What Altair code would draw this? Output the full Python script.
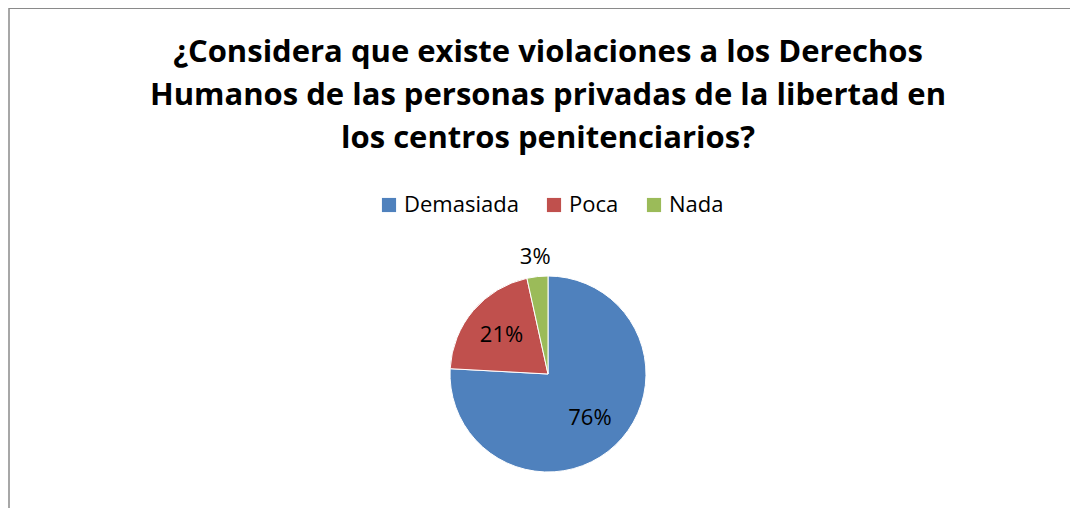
import altair as alt
import pandas as pd

categories = ["Demasiada", "Poca", "Nada"]
counts = [22, 6, 1]
colors = ["#4F81BD", "#C0504D", "#9BBB59"]
title_lines = [
    "¿Considera que existe violaciones a los Derechos",
    "Humanos de las personas privadas de la libertad en",
    "los centros penitenciarios?",
]

df = pd.DataFrame({"cat": categories, "n": counts, "idx": list(range(len(categories)))})

W, H = 1062, 500
cx, cy = 540, 366
R = 98
FONT = "Open Sans"

base = alt.Chart(df).transform_joinaggregate(total="sum(n)").transform_calculate(
    pct="datum.n / datum.total",
    lr="datum.n / datum.total < 0.05 ? 118 : 61",
)

pie = base.mark_arc(radius=R, stroke="white", strokeWidth=1).encode(
    theta=alt.Theta("n:Q", stack=True),
    order=alt.Order("idx:Q"),
    color=alt.Color(
        "cat:N",
        scale=alt.Scale(domain=categories, range=colors),
        legend=alt.Legend(
            orient="none",
            legendX=370,
            legendY=186,
            direction="horizontal",
            title=None,
            symbolType="square",
            symbolSize=200,
            symbolStrokeWidth=0,
            labelFont=FONT,
            labelFontSize=22,
            labelColor="black",
            labelOffset=4,
            columnPadding=24,
            padding=0,
        ),
    ),
    x=alt.value(cx),
    y=alt.value(cy),
)

labels = base.transform_window(
    cum="sum(n)", sort=[alt.SortField("idx")], frame=[None, 0]
).transform_calculate(
    mid="2 * PI * (datum.cum - datum.n / 2) / datum.total"
).mark_text(font=FONT, fontSize=22, color="black", align="center", baseline="middle").encode(
    theta=alt.Theta("mid:Q", scale=None),
    radius=alt.Radius("lr:Q", scale=None),
    text=alt.Text("pct:Q", format=".0%"),
    x=alt.value(cx),
    y=alt.value(cy),
)

dummy = pd.DataFrame({"k": [0]})
title = alt.Chart(dummy).mark_text(
    font=FONT, fontSize=31, fontWeight="bold", lineHeight=43,
    baseline="alphabetic", align="center", color="black",
).encode(x=alt.value(540), y=alt.value(54), text=alt.value(title_lines))

left_border = alt.Chart(dummy).mark_rule(color="#8a8a8a", strokeWidth=1.5).encode(
    x=alt.value(1), y=alt.value(0), y2=alt.value(H)
)
top_border = alt.Chart(dummy).mark_rule(color="#8a8a8a", strokeWidth=1).encode(
    x=alt.value(1), x2=alt.value(W), y=alt.value(0.5)
)

chart = alt.layer(left_border, top_border, title, pie, labels).properties(
    width=W, height=H, padding=0, autosize=alt.AutoSizeParams(type="none"),
    background="white",
).configure_view(stroke=None)

chart.save("out.html", embed_options={"renderer": "svg", "actions": False})
